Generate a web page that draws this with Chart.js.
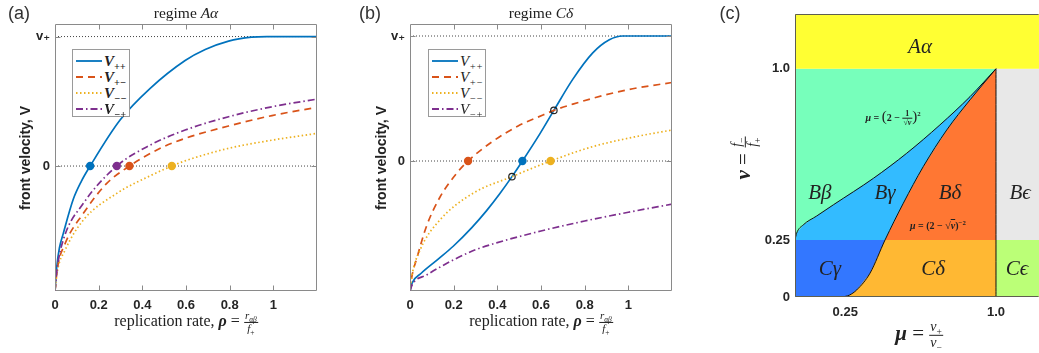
<!DOCTYPE html>
<html>
<head>
<meta charset="utf-8">
<script src="https://cdn.jsdelivr.net/npm/chart.js@4.4.1/dist/chart.umd.min.js"></script>
<style>
  body { margin: 0; background: #fff; }
  #page { position: relative; width: 1039px; height: 353px; overflow: hidden; font-family: "Liberation Serif", "DejaVu Serif", serif; color: #222; }
  canvas { position: absolute; top: 0; }
  .txt { position: absolute; white-space: nowrap; transform: translate(-50%, -50%); line-height: 1; }
  .rot { transform: translate(-50%, -50%) rotate(-90deg); }
  .panel { font-family: "Liberation Sans", sans-serif; font-size: 18px; color: #333; }
  .ylab { font-family: "Liberation Sans", sans-serif; font-weight: bold; font-size: 14px; }
  .xlab { font-size: 16px; }
  .ttl { font-size: 15.5px; }
  .frac { display: inline-block; vertical-align: middle; text-align: center; font-size: 11px; }
  .frac span { display: block; line-height: 1.05; padding: 0 1px; }
  .frac .num { border-bottom: 1px solid #222; }
  sub, sup { line-height: 0; font-size: 68%; }
  .legend { position: absolute; background: #fff; border: 1px solid #9a9a9a; box-sizing: border-box; padding-top: 3px; }
  .legend .row { height: 16px; display: flex; align-items: center; font-size: 15px; }
  .legend svg { margin: 0 2px 0 3px; }
  .reg { font-size: 21px; font-style: italic; }
  .eq { font-size: 10px; font-weight: bold; }
</style>
</head>
<body>
<div id="page">
  <canvas id="cA" width="330" height="353" style="left:0px"></canvas>
  <canvas id="cB" width="340" height="353" style="left:345px"></canvas>
  <canvas id="cC" width="339" height="353" style="left:700px"></canvas>

  <div class="txt panel" style="left:19px;top:13px">(a)</div>
  <div class="txt panel" style="left:370px;top:13px">(b)</div>
  <div class="txt panel" style="left:730px;top:13px">(c)</div>

  <div class="txt ttl" style="left:186px;top:13px">regime <i>Aα</i></div>
  <div class="txt ttl" style="left:541px;top:13px">regime <i>Cδ</i></div>

  <div class="txt rot ylab" style="left:25px;top:158px">front velocity, V</div>
  <div class="txt rot ylab" style="left:381px;top:158px">front velocity, V</div>

  <div class="txt xlab" style="left:186px;top:322px">replication rate, <b><i>ρ</i></b> = <span class="frac"><span class="num"><i>r</i><sub><i>αβ</i></sub></span><span><i>f</i><sub>+</sub></span></span></div>
  <div class="txt xlab" style="left:541px;top:322px">replication rate, <b><i>ρ</i></b> = <span class="frac"><span class="num"><i>r</i><sub><i>αβ</i></sub></span><span><i>f</i><sub>+</sub></span></span></div>

  <div class="txt" style="left:919px;top:335px;font-size:21px"><b><i>μ</i></b> = <span class="frac" style="font-size:14px"><span class="num"><i>v</i><sub>+</sub></span><span><i>v</i><sub>−</sub></span></span></div>
  <div class="txt rot" style="left:745px;top:158px;font-size:21px"><b><i>ν</i></b> = <span class="frac" style="font-size:14px"><span class="num"><i>f</i><sub>−</sub></span><span><i>f</i><sub>+</sub></span></span></div>
</div>

<script>
// ---------- panel (a): regime A alpha ----------
const aVppX = [0, 0.008, 0.02, 0.038, 0.084, 0.12, 0.161, 0.298, 0.436, 0.596, 0.688, 0.795, 0.9, 0.97, 1.2];
const aVppY = [-0.965, -0.78, -0.635, -0.52, -0.255, -0.12, 0, 0.355, 0.6, 0.815, 0.9, 0.965, 0.995, 1.0, 1.0];
const aVpmX = [0, 0.01, 0.046, 0.13, 0.237, 0.341, 0.482, 0.596, 0.795, 0.994, 1.2];
const aVpmY = [-0.965, -0.8, -0.6, -0.365, -0.134, 0, 0.137, 0.214, 0.309, 0.39, 0.453];
const aVmmX = [0, 0.01, 0.046, 0.13, 0.283, 0.436, 0.535, 0.596, 0.795, 0.994, 1.2];
const aVmmY = [-0.965, -0.82, -0.65, -0.417, -0.211, -0.075, 0, 0.04, 0.137, 0.2, 0.252];
const aVmpX = [0, 0.01, 0.038, 0.13, 0.283, 0.436, 0.596, 0.795, 0.994, 1.2];
const aVmpY = [-0.965, -0.79, -0.57, -0.288, 0, 0.162, 0.278, 0.381, 0.458, 0.517];
const aZeroX = [0.161, 0.341, 0.535, 0.283];   // order: ++, +-, --, -+
const aYMin = -0.965, aYMax = 1.097;

// ---------- panel (b): regime C delta ----------
const bVppX = [0, 0.01, 0.05, 0.129, 0.198, 0.282, 0.35, 0.411, 0.467, 0.515, 0.594, 0.659, 0.746, 0.837, 0.913, 0.974, 1.2];
const bVppY = [-1.04, -0.975, -0.9, -0.785, -0.682, -0.535, -0.399, -0.262, -0.125, 0, 0.215, 0.405, 0.655, 0.865, 0.97, 1.0, 1.0];
const bVpmX = [0, 0.008, 0.031, 0.076, 0.137, 0.213, 0.266, 0.373, 0.495, 0.609, 0.659, 0.746, 0.898, 1.02, 1.2];
const bVpmY = [-1.04, -0.93, -0.78, -0.52, -0.29, -0.1, 0, 0.15, 0.28, 0.368, 0.405, 0.455, 0.53, 0.578, 0.628];
const bVmmX = [0, 0.008, 0.046, 0.137, 0.289, 0.467, 0.644, 0.837, 1.035, 1.2];
const bVmmY = [-1.04, -0.925, -0.712, -0.472, -0.258, -0.125, 0, 0.115, 0.195, 0.248];
const bVmpX = [0, 0.01, 0.076, 0.198, 0.3, 0.396, 0.6, 0.8, 1.0, 1.2];
const bVmpY = [-1.04, -0.99, -0.912, -0.792, -0.71, -0.655, -0.56, -0.48, -0.41, -0.345];
const bZeroX = [0.515, 0.266, 0.644, null];
const bCrossX = [0.467, 0.659];
const bCrossY = [-0.125, 0.405];
const bYMin = -1.04, bYMax = 1.096;

// shared axes of (a) and (b)
const rhoTicks = [0, 0.2, 0.4, 0.6, 0.8, 1];
const vTicks = [0, 1];
const vTickLabels = ['0', 'v₊'];
const seriesNames = ['++', '+−', '−−', '−+'];

// ---------- panel (c): regime map ----------
const curve1Mu = [0, 0.008, 0.041, 0.108, 0.191, 0.39, 0.556, 0.721, 0.871, 1.0];
const curve1Nu = [0.25, 0.279, 0.316, 0.355, 0.404, 0.52, 0.63, 0.754, 0.878, 1.0];
const curve2Mu = [0.235, 0.27, 0.307, 0.373, 0.448, 0.539, 0.638, 0.755, 0.871, 1.0];
const curve2Nu = [0, 0.008, 0.031, 0.104, 0.25, 0.411, 0.571, 0.732, 0.864, 1.0];
const muTicks = [0.25, 1.0];
const muTickLabels = ['0.25', '1.0'];
const nuTicks = [0, 0.25, 1.0];
const nuTickLabels = ['0', '0.25', '1.0'];
const regionNames = ['A<span>α</span>', 'Bβ', 'Bγ', 'Bδ', 'Bϵ', 'Cγ', 'Cδ', 'Cϵ'];
const regionMu = [0.622, 0.124, 0.448, 0.771, 1.12, 0.174, 0.687, 1.105];
const regionNu = [1.10, 0.46, 0.46, 0.46, 0.46, 0.127, 0.127, 0.127];
const cXMax = 1.214, cYMax = 1.24;

// styles
const seriesColors = ['#0072BD', '#D95319', '#EDB120', '#7E2F8E'];
const seriesDash = [[], [7, 5], [1.5, 2.5], [7, 3, 1.5, 3]];
const regionColors = {
  Aa: '#ffff33', Bb: '#77ffbb', Bg: '#33bbff', Bd: '#ff7733',
  Be: '#e8e8e8', Cg: '#3377ff', Cd: '#ffb833', Ce: '#bbff77'
};
const tickFont = { family: "'Liberation Sans', 'DejaVu Sans', sans-serif", weight: 'bold', size: 13 };

function pts(xs, ys) { return xs.map(function(x, i) { return { x: x, y: ys[i] }; }); }

// frame + inward tick marks, MATLAB style
const framePlugin = {
  id: 'frame',
  afterDatasetsDraw(chart, args, opts) {
    const ctx = chart.ctx, a = chart.chartArea;
    const L = a.left + 0.5, R = a.right - 0.5, T = a.top + 0.5, B = a.bottom - 0.5;
    ctx.save();
    ctx.strokeStyle = opts.color;
    ctx.lineWidth = 1;
    ctx.beginPath();
    if (opts.sides.indexOf('t') >= 0) { ctx.moveTo(L, T); ctx.lineTo(R, T); }
    if (opts.sides.indexOf('b') >= 0) { ctx.moveTo(L, B); ctx.lineTo(R, B); }
    if (opts.sides.indexOf('l') >= 0) { ctx.moveTo(L, T); ctx.lineTo(L, B); }
    if (opts.sides.indexOf('r') >= 0) { ctx.moveTo(R, T); ctx.lineTo(R, B); }
    if (opts.tickLen) {
      const xs = chart.scales.x, ys = chart.scales.y, n = opts.tickLen;
      xs.ticks.forEach(function(t) {
        const p = Math.round(xs.getPixelForValue(t.value)) + 0.5;
        if (p <= L + 1 || p >= R - 1) return;
        ctx.moveTo(p, B); ctx.lineTo(p, B - n);
        ctx.moveTo(p, T); ctx.lineTo(p, T + n);
      });
      ys.ticks.forEach(function(t) {
        const p = Math.round(ys.getPixelForValue(t.value)) + 0.5;
        ctx.moveTo(L, p); ctx.lineTo(L + n, p);
        ctx.moveTo(R, p); ctx.lineTo(R - n, p);
      });
    }
    ctx.stroke();
    ctx.restore();
  }
};

function velocityChart(canvasId, curves, zeroX, crossX, crossY, yMin, yMax, leftW) {
  const datasets = [];
  // filled markers at V = 0
  zeroX.forEach(function(x, i) {
    if (x === null) return;
    datasets.push({ data: [{ x: x, y: 0 }], showLine: false, pointRadius: 4.2, pointBorderWidth: 0,
      pointBackgroundColor: seriesColors[i], pointBorderColor: seriesColors[i], order: 0 });
  });
  // open circles at crossings
  if (crossX.length) {
    datasets.push({ data: pts(crossX, crossY), showLine: false, pointRadius: 3.2, pointBorderWidth: 1.2,
      pointBackgroundColor: 'rgba(0,0,0,0)', pointBorderColor: '#222', order: 0 });
  }
  // the four front velocities
  curves.forEach(function(c, i) {
    datasets.push({ data: pts(c[0], c[1]), borderColor: seriesColors[i], borderWidth: 1.7,
      borderDash: seriesDash[i], pointRadius: 0, fill: false, cubicInterpolationMode: 'monotone',
      order: 4 - i });
  });
  // dotted reference lines at 0 and v+
  vTicks.forEach(function(v) {
    datasets.push({ data: [{ x: 0, y: v }, { x: 1.2, y: v }], borderColor: '#444', borderWidth: 1,
      borderDash: [1, 2], pointRadius: 0, fill: false, order: 10 });
  });

  return new Chart(document.getElementById(canvasId), {
    type: 'line',
    data: { datasets: datasets },
    plugins: [framePlugin],
    options: {
      responsive: false, animation: false, events: [],
      layout: { padding: { left: 0, right: 13, top: 24, bottom: 32 } },
      plugins: { legend: { display: false }, tooltip: { enabled: false },
        frame: { color: '#8a8a8a', sides: 'tblr', tickLen: 5 } },
      scales: {
        x: {
          type: 'linear', min: 0, max: 1.2,
          afterBuildTicks: function(s) { s.ticks = rhoTicks.map(function(v) { return { value: v }; }); },
          afterFit: function(s) { s.height = 30; },
          grid: { display: false, drawTicks: false }, border: { display: false },
          ticks: { font: tickFont, color: '#262626', padding: 7, maxRotation: 0, autoSkip: false,
            callback: function(v) { return String(v); } }
        },
        y: {
          type: 'linear', min: yMin, max: yMax,
          afterBuildTicks: function(s) { s.ticks = vTicks.map(function(v) { return { value: v }; }); },
          afterFit: function(s) { s.width = leftW; },
          grid: { display: false, drawTicks: false }, border: { display: false },
          ticks: { font: tickFont, color: '#262626', padding: 5, autoSkip: false,
            callback: function(v, i) { return vTickLabels[i]; } }
        }
      }
    }
  });
}

velocityChart('cA', [[aVppX, aVppY], [aVpmX, aVpmY], [aVmmX, aVmmY], [aVmpX, aVmpY]],
  aZeroX, [], [], aYMin, aYMax, 55);
velocityChart('cB', [[bVppX, bVppY], [bVpmX, bVpmY], [bVmmX, bVmmY], [bVmpX, bVmpY]],
  bZeroX, bCrossX, bCrossY, bYMin, bYMax, 65);

// legends with subscripts
function addLegend(left, top, bold) {
  const box = document.createElement('div');
  box.className = 'legend';
  box.style.left = left + 'px'; box.style.top = top + 'px';
  box.style.width = '58px'; box.style.height = '68px';
  seriesNames.forEach(function(name, i) {
    const row = document.createElement('div');
    row.className = 'row';
    row.innerHTML = '<svg width="26" height="6"><line x1="0" y1="3" x2="26" y2="3" stroke="' + seriesColors[i] +
      '" stroke-width="1.8" stroke-dasharray="' + (seriesDash[i].join(' ') || 'none') + '"/></svg>' +
      '<span style="font-style:italic;' + (bold ? 'font-weight:bold' : '') + '">V<sub>' + name + '</sub></span>';
    box.appendChild(row);
  });
  document.getElementById('page').appendChild(box);
}
addLegend(72, 49, true);
addLegend(428, 49, false);

// ---------- panel (c) ----------
const c1 = pts(curve1Mu, curve1Nu);
const c2 = pts(curve2Mu, curve2Nu);
const c2Low = c2.filter(function(p) { return p.y <= 0.25; });
const c2High = c2.filter(function(p) { return p.y >= 0.25; });

function region(points, color, order) {
  return { data: points, backgroundColor: color, borderWidth: 0, pointRadius: 0, fill: 'shape', tension: 0, order: order };
}
function boundary(points) {
  return { data: points, borderColor: '#111', borderWidth: 1, pointRadius: 0, fill: false,
    cubicInterpolationMode: 'monotone', order: 0 };
}
function rect(x0, y0, x1, y1) {
  return [{ x: x0, y: y0 }, { x: x1, y: y0 }, { x: x1, y: y1 }, { x: x0, y: y1 }];
}

const cDatasets = [
  region(rect(0, 1, cXMax, cYMax), regionColors.Aa, 20),
  region(rect(0, 0.25, 1, 1), regionColors.Bb, 20),
  region(rect(1, 0.25, cXMax, 1), regionColors.Be, 20),
  region(rect(0, 0, 1, 0.25), regionColors.Cd, 20),
  region(rect(1, 0, cXMax, 0.25), regionColors.Ce, 20),
  region(c1.concat(c2High.slice().reverse()), regionColors.Bg, 10),
  region(c2High.concat([{ x: 1, y: 0.25 }]), regionColors.Bd, 10),
  region([{ x: 0, y: 0 }].concat(c2Low, [{ x: 0, y: 0.25 }]), regionColors.Cg, 10),
  boundary(c1),
  boundary(c2),
  boundary([{ x: 1, y: 0 }, { x: 1, y: 1 }])
];

const cChart = new Chart(document.getElementById('cC'), {
  type: 'line',
  data: { datasets: cDatasets },
  plugins: [framePlugin],
  options: {
    responsive: false, animation: false, events: [],
    layout: { padding: { left: 0, right: 0, top: 14, bottom: 26 } },
    plugins: { legend: { display: false }, tooltip: { enabled: false },
      frame: { color: '#5f5f50', sides: 'tbl', tickLen: 0 } },
    scales: {
      x: {
        type: 'linear', min: 0, max: cXMax,
        afterBuildTicks: function(s) { s.ticks = muTicks.map(function(v) { return { value: v }; }); },
        afterFit: function(s) { s.height = 30; },
        grid: { display: false, drawTicks: false }, border: { display: false },
        ticks: { font: tickFont, color: '#262626', padding: 8, maxRotation: 0, autoSkip: false,
          callback: function(v, i) { return muTickLabels[i]; } }
      },
      y: {
        type: 'linear', min: 0, max: cYMax,
        afterBuildTicks: function(s) { s.ticks = nuTicks.map(function(v) { return { value: v }; }); },
        afterFit: function(s) { s.width = 95; },
        grid: { display: false, drawTicks: false }, border: { display: false },
        ticks: { font: tickFont, color: '#262626', padding: 5, autoSkip: false,
          callback: function(v, i) { return nuTickLabels[i]; } }
      }
    }
  }
});

// region names and boundary formulas placed through the chart's scales
(function() {
  const page = document.getElementById('page');
  const sx = cChart.scales.x, sy = cChart.scales.y, off = 700;
  function place(html, mu, nu, cls) {
    const el = document.createElement('div');
    el.className = 'txt ' + cls;
    el.innerHTML = html;
    el.style.left = (off + sx.getPixelForValue(mu)) + 'px';
    el.style.top = sy.getPixelForValue(nu) + 'px';
    page.appendChild(el);
  }
  regionNames.forEach(function(n, i) { place(n, regionMu[i], regionNu[i], 'reg'); });
  place('<i>μ</i> = <span style="font-size:15px;font-weight:normal">(</span>2 − <span class="frac" style="font-size:8px"><span class="num">1</span><span>√<i>ν</i></span></span><span style="font-size:15px;font-weight:normal">)</span><sup>2</sup>',
    0.488, 0.785, 'eq');
  place('<i>μ</i> = (2 − √<span style="text-decoration:overline"><i>ν</i></span>)<sup>−2</sup>', 0.711, 0.311, 'eq');
})();
</script>
</body>
</html>
